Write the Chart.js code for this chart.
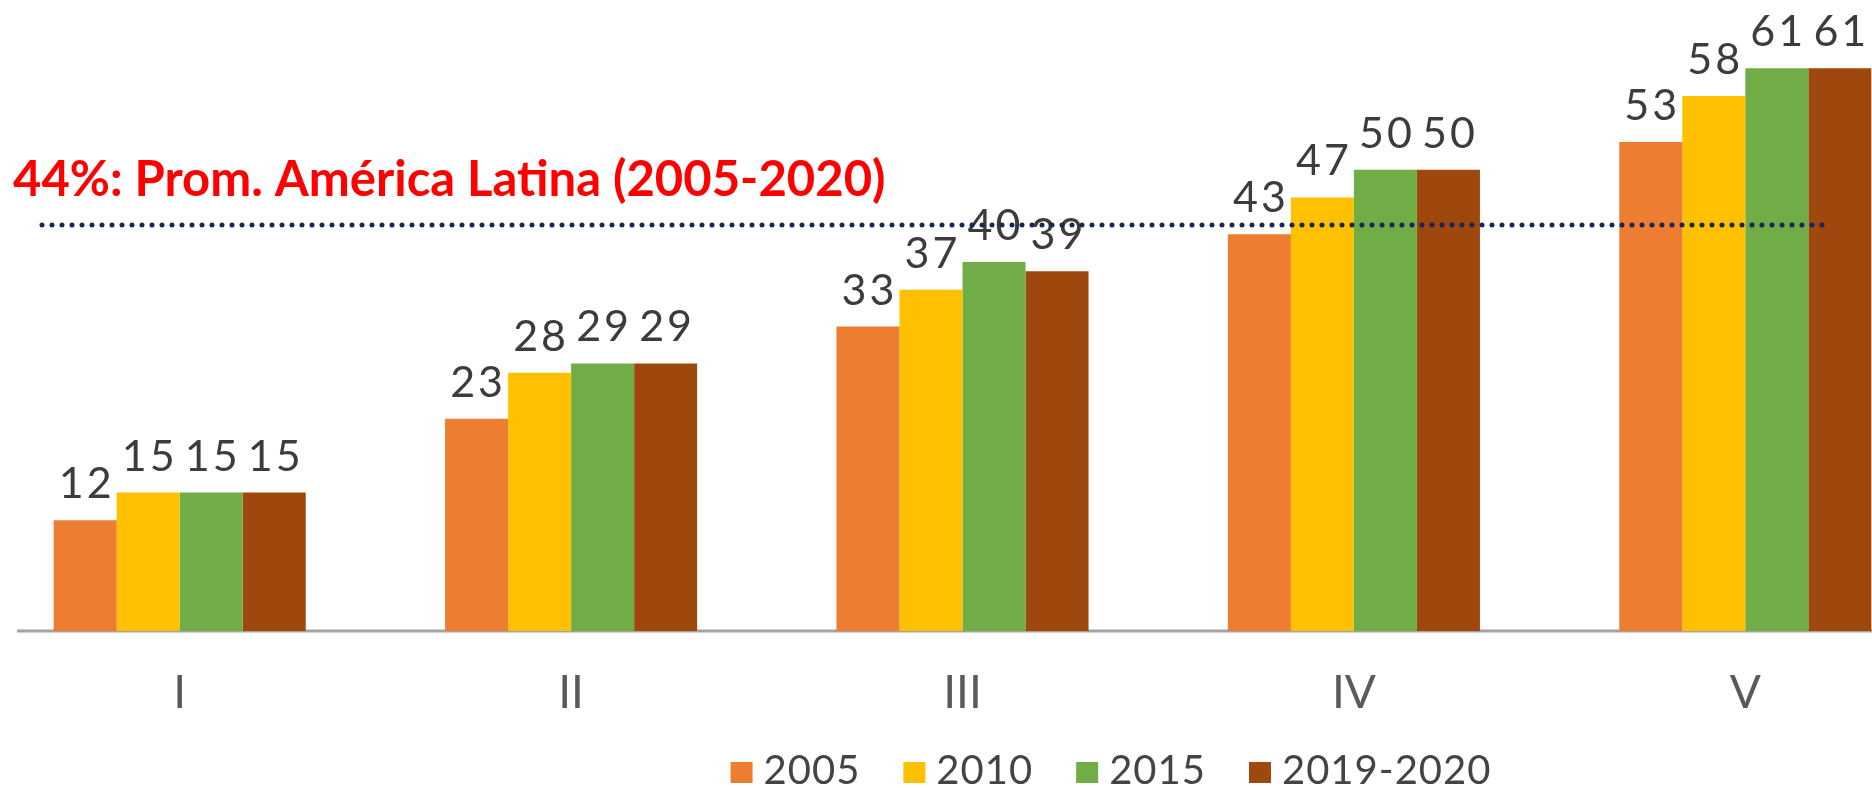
<!DOCTYPE html>
<html>
<head>
<meta charset="utf-8">
<script src="https://cdn.jsdelivr.net/npm/chart.js@4/dist/chart.umd.min.js"></script>
<style>
  html, body { margin: 0; padding: 0; background: #fff; overflow: hidden; width: 1872px; height: 788px; }
  #wrap { position: absolute; left: -16px; top: 0; width: 1957px; height: 788px; }
</style>
</head>
<body>
<div id="wrap"><canvas id="c" width="1957" height="788"></canvas></div>
<script>
// Quintile groups and survey years
const quintiles = ['I', 'II', 'III', 'IV', 'V'];
const years = ['2005', '2010', '2015', '2019-2020'];

// Percentages per quintile, one list per year
const v2005 = [12, 23, 33, 43, 53];
const v2010 = [15, 28, 37, 47, 58];
const v2015 = [15, 29, 40, 50, 61];
const v2019 = [15, 29, 39, 50, 61];

// Regional reference line
const latamAverage = 44;
const averageLabel = '44%: Prom. América Latina (2005-2020)';

const barColors = ['#ED7D31', '#FFC000', '#70AD47', '#9E480E'];
const series = [v2005, v2010, v2015, v2019];

const LABEL_FONT = '"Lato", "Noto Sans", sans-serif';

// Horizontal base line under the bars
const baseLine = {
  id: 'baseLine',
  beforeDatasetsDraw(chart) {
    const { ctx, chartArea, scales } = chart;
    const y = scales.y.getPixelForValue(0);
    ctx.save();
    ctx.strokeStyle = '#a3a3a3';
    ctx.lineWidth = 3;
    ctx.beginPath();
    ctx.moveTo(chartArea.left + 33, y);
    ctx.lineTo(chartArea.right, y);
    ctx.stroke();
    ctx.restore();
  }
};

// Value printed above every bar
const valueLabels = {
  id: 'valueLabels',
  afterDatasetsDraw(chart) {
    const ctx = chart.ctx;
    ctx.save();
    ctx.font = '400 43px ' + LABEL_FONT;
    ctx.letterSpacing = '3px';
    ctx.fillStyle = '#3c3c3c';
    ctx.textAlign = 'center';
    ctx.textBaseline = 'alphabetic';
    chart.data.datasets.forEach((ds, i) => {
      const meta = chart.getDatasetMeta(i);
      meta.data.forEach((bar, j) => {
        ctx.fillText(String(ds.data[j]), bar.x + 1.5, bar.y - 22);
      });
    });
    ctx.restore();
  }
};

// Dotted average line with its caption
const averageLine = {
  id: 'averageLine',
  afterDatasetsDraw(chart) {
    const { ctx, chartArea, scales } = chart;
    const y = scales.y.getPixelForValue(latamAverage);
    ctx.save();
    ctx.strokeStyle = '#17255a';
    ctx.lineWidth = 5;
    ctx.lineCap = 'round';
    ctx.setLineDash([0, 10]);
    ctx.beginPath();
    ctx.moveTo(chartArea.left + 58, y);
    ctx.lineTo(chartArea.left + 1843, y);
    ctx.stroke();
    ctx.setLineDash([]);
    ctx.font = '700 49px "Lato", sans-serif';
    ctx.fillStyle = '#ff0000';
    ctx.textAlign = 'left';
    ctx.textBaseline = 'alphabetic';
    ctx.fillText(averageLabel, chartArea.left + 29, y - 29);
    ctx.restore();
  }
};

// Legend row along the bottom edge
const bottomLegend = {
  id: 'bottomLegend',
  afterDraw(chart) {
    const ctx = chart.ctx;
    ctx.save();
    ctx.font = '400 40px ' + LABEL_FONT;
    ctx.letterSpacing = '1px';
    const box = 22, textGap = 11, itemGap = 43;
    const items = chart.data.datasets.map(ds => ({ text: ds.label, color: ds.backgroundColor, w: ctx.measureText(ds.label).width }));
    const total = items.reduce((s, it) => s + box + textGap + it.w, 0) + itemGap * (items.length - 1);
    let x = chart.chartArea.left + 1127 - total / 2;
    const baseY = chart.height - 4;
    ctx.textBaseline = 'alphabetic';
    ctx.textAlign = 'left';
    items.forEach(it => {
      ctx.fillStyle = it.color;
      ctx.fillRect(x, baseY - 22, box, 21);
      x += box + textGap;
      ctx.fillStyle = '#444444';
      ctx.fillText(it.text, x, baseY);
      x += it.w + itemGap;
    });
    ctx.restore();
  }
};

new Chart(document.getElementById('c'), {
  type: 'bar',
  data: {
    labels: quintiles,
    datasets: years.map((y, i) => ({
      label: y,
      data: series[i],
      backgroundColor: barColors[i],
      borderWidth: 0,
      categoryPercentage: 0.644,
      barPercentage: 1
    }))
  },
  options: {
    responsive: false,
    animation: false,
    devicePixelRatio: 1,
    layout: { padding: 0 },
    plugins: {
      legend: { display: false },
      tooltip: { enabled: false },
      title: { display: false }
    },
    scales: {
      x: {
        grid: { display: false, drawTicks: false },
        border: { display: false },
        ticks: {
          padding: 35,
          color: '#5a5a5a',
          font: { family: LABEL_FONT, size: 46, weight: 400 }
        },
        afterFit(scale) { scale.height = 157; }
      },
      y: {
        display: false,
        min: 0,
        max: 68.4
      }
    }
  },
  plugins: [baseLine, valueLabels, averageLine, bottomLegend]
});
</script>
</body>
</html>
